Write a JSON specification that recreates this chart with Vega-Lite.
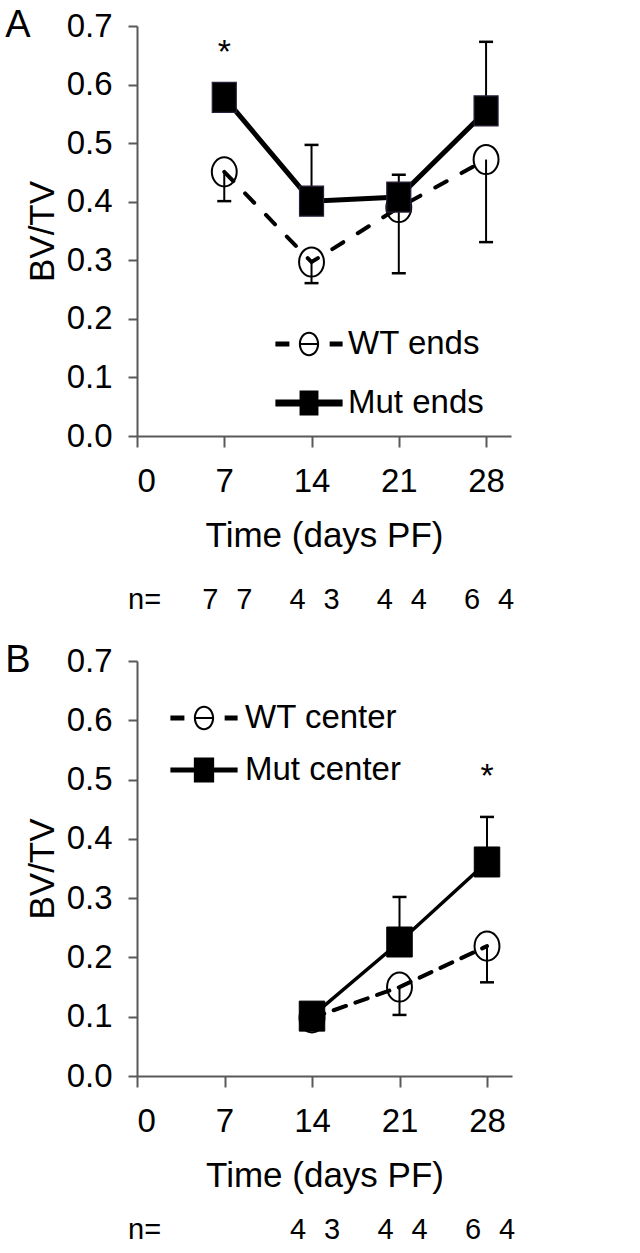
{
  "$schema": "https://vega.github.io/schema/vega-lite/v6.json",
  "background": "white",
  "padding": {"left": 5, "top": 7, "right": 5, "bottom": 5},
  "bounds": "flush",
  "spacing": 225,
  "config": {
    "font": "Liberation Sans",
    "view": {"stroke": null},
    "axis": {
      "domainColor": "#595959", "domainWidth": 2, "tickColor": "#595959", "tickWidth": 2,
      "grid": false, "labelFont": "Liberation Sans", "labelFontSize": 33, "labelColor": "black",
      "titleFont": "Liberation Sans", "titleFontSize": 35, "titleFontWeight": "normal", "titleColor": "black"
    },
    "legend": {"labelFont": "Liberation Sans", "labelFontSize": 33, "labelColor": "black", "padding": 0, "title": null, "symbolStrokeWidth": 0},
    "title": {"font": "Liberation Sans", "fontSize": 38, "fontWeight": "normal", "color": "black"}
  },
  "datasets": {
    "pts": [
      {"panel": "A", "group": "WT ends", "time": 7, "value": 0.451, "lo": 0.401, "hi": null},
      {"panel": "A", "group": "WT ends", "time": 14, "value": 0.297, "lo": 0.261, "hi": null},
      {"panel": "A", "group": "WT ends", "time": 21, "value": 0.39, "lo": 0.278, "hi": null},
      {"panel": "A", "group": "WT ends", "time": 28, "value": 0.472, "lo": 0.331, "hi": null},
      {"panel": "A", "group": "Mut ends", "time": 7, "value": 0.578, "lo": null, "hi": null},
      {"panel": "A", "group": "Mut ends", "time": 14, "value": 0.401, "lo": null, "hi": 0.497},
      {"panel": "A", "group": "Mut ends", "time": 21, "value": 0.408, "lo": null, "hi": 0.446},
      {"panel": "A", "group": "Mut ends", "time": 28, "value": 0.555, "lo": null, "hi": 0.673},
      {"panel": "B", "group": "WT center", "time": 14, "value": 0.098, "lo": null, "hi": null},
      {"panel": "B", "group": "WT center", "time": 21, "value": 0.15, "lo": 0.103, "hi": null},
      {"panel": "B", "group": "WT center", "time": 28, "value": 0.219, "lo": 0.158, "hi": null},
      {"panel": "B", "group": "Mut center", "time": 14, "value": 0.101, "lo": null, "hi": null},
      {"panel": "B", "group": "Mut center", "time": 21, "value": 0.226, "lo": null, "hi": 0.302},
      {"panel": "B", "group": "Mut center", "time": 28, "value": 0.361, "lo": null, "hi": 0.437}
    ],
    "nvals": [
      {"panel": "A", "grp": "WT", "time": 7, "n": "7"},
      {"panel": "A", "grp": "Mut", "time": 7, "n": "7"},
      {"panel": "A", "grp": "WT", "time": 14, "n": "4"},
      {"panel": "A", "grp": "Mut", "time": 14, "n": "3"},
      {"panel": "A", "grp": "WT", "time": 21, "n": "4"},
      {"panel": "A", "grp": "Mut", "time": 21, "n": "4"},
      {"panel": "A", "grp": "WT", "time": 28, "n": "6"},
      {"panel": "A", "grp": "Mut", "time": 28, "n": "4"},
      {"panel": "B", "grp": "WT", "time": 14, "n": "4"},
      {"panel": "B", "grp": "Mut", "time": 14, "n": "3"},
      {"panel": "B", "grp": "WT", "time": 21, "n": "4"},
      {"panel": "B", "grp": "Mut", "time": 21, "n": "4"},
      {"panel": "B", "grp": "WT", "time": 28, "n": "6"},
      {"panel": "B", "grp": "Mut", "time": 28, "n": "4"}
    ],
    "stars": [
      {"panel": "A", "time": 7, "value": 0.665, "label": "*"},
      {"panel": "B", "time": 28, "value": 0.515, "label": "*"}
    ]
  },
  "resolve": {
    "scale": {"x": "independent", "y": "independent", "shape": "independent"},
    "legend": {"shape": "independent"}
  },
  "vconcat": [
    {
      "width": 374,
      "height": 410,
      "title": {"text": "A", "anchor": "start", "frame": "bounds", "offset": -35, "dx": -20},
      "layer": [
        {
          "data": {"name": "pts"},
          "transform": [{"filter": "datum.panel === 'A' && indexof(datum.group, 'WT') === 0"}],
          "mark": {"type": "line", "color": "black", "strokeWidth": 4, "strokeDash": [13, 17], "strokeCap": "round"},
          "encoding": {
            "x": {"field": "time", "type": "quantitative", "scale": {"domain": [0, 30], "nice": false},
                  "axis": {"values": [0, 7, 14, 21, 28], "tickSize": 11, "labelPadding": 18, "title": "Time (days PF)", "titlePadding": 20}},
            "y": {"field": "value", "type": "quantitative", "scale": {"domain": [0, 0.7], "nice": false},
                  "axis": {"values": [0, 0.1, 0.2, 0.3, 0.4, 0.5, 0.6, 0.7], "format": ".1f", "tickSize": 9, "labelPadding": 16, "title": "BV/TV", "titlePadding": 6}}
          }
        },
        {
          "data": {"name": "pts"},
          "transform": [{"filter": "datum.panel === 'A' && datum.lo != null"}],
          "mark": {"type": "rule", "color": "black", "strokeWidth": 2},
          "encoding": {
            "x": {"field": "time", "type": "quantitative"},
            "y": {"field": "value", "type": "quantitative"},
            "y2": {"field": "lo"}
          }
        },
        {
          "data": {"name": "pts"},
          "transform": [{"filter": "datum.panel === 'A' && datum.lo != null"}],
          "mark": {"type": "tick", "orient": "horizontal", "color": "black", "size": 14, "thickness": 2.5, "opacity": 1},
          "encoding": {
            "x": {"field": "time", "type": "quantitative"},
            "y": {"field": "lo", "type": "quantitative"}
          }
        },
        {
          "data": {"name": "pts"},
          "transform": [{"filter": "datum.panel === 'A' && indexof(datum.group, 'Mut') === 0"}],
          "mark": {"type": "line", "color": "black", "strokeWidth": 5},
          "encoding": {
            "x": {"field": "time", "type": "quantitative"},
            "y": {"field": "value", "type": "quantitative"}
          }
        },
        {
          "data": {"name": "pts"},
          "transform": [{"filter": "datum.panel === 'A' && datum.hi != null"}],
          "mark": {"type": "rule", "color": "black", "strokeWidth": 2},
          "encoding": {
            "x": {"field": "time", "type": "quantitative"},
            "y": {"field": "value", "type": "quantitative"},
            "y2": {"field": "hi"}
          }
        },
        {
          "data": {"name": "pts"},
          "transform": [{"filter": "datum.panel === 'A' && datum.hi != null"}],
          "mark": {"type": "tick", "orient": "horizontal", "color": "black", "size": 14, "thickness": 2.5, "opacity": 1},
          "encoding": {
            "x": {"field": "time", "type": "quantitative"},
            "y": {"field": "hi", "type": "quantitative"}
          }
        },
        {
          "data": {"name": "pts"},
          "transform": [{"filter": "datum.panel === 'A' && indexof(datum.group, 'WT') === 0"}],
          "mark": {"type": "point", "shape": "M-0.83,0A0.83,0.97 0 1,0 0.83,0A0.83,0.97 0 1,0 -0.83,0Z", "size": 900, "strokeWidth": 2, "opacity": 1, "filled": false, "color": "black"},
          "encoding": {
            "x": {"field": "time", "type": "quantitative"},
            "y": {"field": "value", "type": "quantitative"}
          }
        },
        {
          "data": {"name": "pts"},
          "transform": [{"filter": "datum.panel === 'A' && indexof(datum.group, 'Mut') === 0"}],
          "mark": {"type": "point", "shape": "M-0.8,-1H0.8V1H-0.8Z", "size": 900, "strokeWidth": 1.2, "opacity": 1, "filled": true, "fill": "black", "stroke": "#2a1f3d"},
          "encoding": {
            "x": {"field": "time", "type": "quantitative"},
            "y": {"field": "value", "type": "quantitative"}
          }
        },
        {
          "data": {"name": "pts"},
          "transform": [{"filter": "false"}],
          "mark": {"type": "point", "filled": true, "color": "black", "size": 4900, "strokeWidth": 0, "opacity": 1},
          "encoding": {
            "x": {"field": "time", "type": "quantitative"},
            "y": {"field": "value", "type": "quantitative"},
            "shape": {"field": "group", "type": "nominal",
              "scale": {"domain": ["WT ends", "Mut ends"], "range": [
                "M-0.96,-0.07H-0.56V0.07H-0.96Z M0.59,-0.07H0.96V0.07H0.59Z M-0.29,0A0.29,0.35 0 1,1 0.29,0A0.29,0.35 0 1,1 -0.29,0Z M-0.23,0A0.23,0.29 0 1,0 0.23,0A0.23,0.29 0 1,0 -0.23,0Z M-0.26,-0.03H0.26V0.03H-0.26Z",
                "M-0.96,-0.1H0.96V0.1H-0.96Z M-0.27,-0.36H0.27V0.36H-0.27Z"]},
              "legend": {"orient": "none", "legendX": 137, "legendY": 283, "symbolSize": 4900, "labelOffset": 4, "rowPadding": 7}
            }
          }
        },
        {
          "data": {"name": "stars"},
          "transform": [{"filter": "datum.panel === 'A'"}],
          "mark": {"type": "text", "fontSize": 34, "baseline": "middle", "dy": 6, "color": "black"},
          "encoding": {
            "x": {"field": "time", "type": "quantitative"},
            "y": {"field": "value", "type": "quantitative"},
            "text": {"field": "label"}
          }
        },
        {
          "data": {"name": "nvals"},
          "transform": [{"filter": "datum.panel === 'A' && datum.grp === 'WT'"}],
          "mark": {"type": "text", "fontSize": 29, "baseline": "alphabetic", "dx": -14, "color": "black"},
          "encoding": {
            "x": {"field": "time", "type": "quantitative"},
            "y": {"datum": -0.296},
            "text": {"field": "n"}
          }
        },
        {
          "data": {"name": "nvals"},
          "transform": [{"filter": "datum.panel === 'A' && datum.grp === 'Mut'"}],
          "mark": {"type": "text", "fontSize": 29, "baseline": "alphabetic", "dx": 20, "color": "black"},
          "encoding": {
            "x": {"field": "time", "type": "quantitative"},
            "y": {"datum": -0.296},
            "text": {"field": "n"}
          }
        },
        {
          "data": {"values": [{"label": "n="}]},
          "mark": {"type": "text", "fontSize": 29, "baseline": "alphabetic", "align": "left", "dx": -9, "color": "black"},
          "encoding": {
            "x": {"datum": 0},
            "y": {"datum": -0.296},
            "text": {"field": "label"}
          }
        }
      ]
    },
    {
      "width": 375,
      "height": 415,
      "title": {"text": "B", "anchor": "start", "frame": "bounds", "offset": -35, "dx": -20},
      "layer": [
        {
          "data": {"name": "pts"},
          "transform": [{"filter": "datum.panel === 'B' && indexof(datum.group, 'WT') === 0"}],
          "mark": {"type": "line", "color": "black", "strokeWidth": 4, "strokeDash": [13, 10], "strokeCap": "round"},
          "encoding": {
            "x": {"field": "time", "type": "quantitative", "scale": {"domain": [0, 30], "nice": false},
                  "axis": {"values": [0, 7, 14, 21, 28], "tickSize": 11, "labelPadding": 18, "title": "Time (days PF)", "titlePadding": 20}},
            "y": {"field": "value", "type": "quantitative", "scale": {"domain": [0, 0.7], "nice": false},
                  "axis": {"values": [0, 0.1, 0.2, 0.3, 0.4, 0.5, 0.6, 0.7], "format": ".1f", "tickSize": 9, "labelPadding": 16, "title": "BV/TV", "titlePadding": 6}}
          }
        },
        {
          "data": {"name": "pts"},
          "transform": [{"filter": "datum.panel === 'B' && datum.lo != null"}],
          "mark": {"type": "rule", "color": "black", "strokeWidth": 2},
          "encoding": {
            "x": {"field": "time", "type": "quantitative"},
            "y": {"field": "value", "type": "quantitative"},
            "y2": {"field": "lo"}
          }
        },
        {
          "data": {"name": "pts"},
          "transform": [{"filter": "datum.panel === 'B' && datum.lo != null"}],
          "mark": {"type": "tick", "orient": "horizontal", "color": "black", "size": 14, "thickness": 2.5, "opacity": 1},
          "encoding": {
            "x": {"field": "time", "type": "quantitative"},
            "y": {"field": "lo", "type": "quantitative"}
          }
        },
        {
          "data": {"name": "pts"},
          "transform": [{"filter": "datum.panel === 'B' && indexof(datum.group, 'Mut') === 0"}],
          "mark": {"type": "line", "color": "black", "strokeWidth": 3.5},
          "encoding": {
            "x": {"field": "time", "type": "quantitative"},
            "y": {"field": "value", "type": "quantitative"}
          }
        },
        {
          "data": {"name": "pts"},
          "transform": [{"filter": "datum.panel === 'B' && datum.hi != null"}],
          "mark": {"type": "rule", "color": "black", "strokeWidth": 2},
          "encoding": {
            "x": {"field": "time", "type": "quantitative"},
            "y": {"field": "value", "type": "quantitative"},
            "y2": {"field": "hi"}
          }
        },
        {
          "data": {"name": "pts"},
          "transform": [{"filter": "datum.panel === 'B' && datum.hi != null"}],
          "mark": {"type": "tick", "orient": "horizontal", "color": "black", "size": 14, "thickness": 2.5, "opacity": 1},
          "encoding": {
            "x": {"field": "time", "type": "quantitative"},
            "y": {"field": "hi", "type": "quantitative"}
          }
        },
        {
          "data": {"name": "pts"},
          "transform": [{"filter": "datum.panel === 'B' && indexof(datum.group, 'WT') === 0"}],
          "mark": {"type": "point", "shape": "M-0.83,0A0.83,0.97 0 1,0 0.83,0A0.83,0.97 0 1,0 -0.83,0Z", "size": 900, "strokeWidth": 2, "opacity": 1, "filled": false, "color": "black"},
          "encoding": {
            "x": {"field": "time", "type": "quantitative"},
            "y": {"field": "value", "type": "quantitative"}
          }
        },
        {
          "data": {"name": "pts"},
          "transform": [{"filter": "datum.panel === 'B' && indexof(datum.group, 'Mut') === 0"}],
          "mark": {"type": "point", "shape": "M-0.85,-1H0.85V1H-0.85Z", "size": 900, "strokeWidth": 1, "opacity": 1, "filled": true, "fill": "black", "stroke": "black"},
          "encoding": {
            "x": {"field": "time", "type": "quantitative"},
            "y": {"field": "value", "type": "quantitative"}
          }
        },
        {
          "data": {"name": "pts"},
          "transform": [{"filter": "false"}],
          "mark": {"type": "point", "filled": true, "color": "black", "size": 4900, "strokeWidth": 0, "opacity": 1},
          "encoding": {
            "x": {"field": "time", "type": "quantitative"},
            "y": {"field": "value", "type": "quantitative"},
            "shape": {"field": "group", "type": "nominal",
              "scale": {"domain": ["WT center", "Mut center"], "range": [
                "M-0.96,-0.07H-0.56V0.07H-0.96Z M0.59,-0.07H0.96V0.07H0.59Z M-0.29,0A0.29,0.35 0 1,1 0.29,0A0.29,0.35 0 1,1 -0.29,0Z M-0.23,0A0.23,0.29 0 1,0 0.23,0A0.23,0.29 0 1,0 -0.23,0Z M-0.26,-0.03H0.26V0.03H-0.26Z",
                "M-0.96,-0.07H0.96V0.07H-0.96Z M-0.29,-0.36H0.29V0.36H-0.29Z"]},
              "legend": {"orient": "none", "legendX": 32, "legendY": 22, "symbolSize": 4900, "labelOffset": 6, "rowPadding": -2}
            }
          }
        },
        {
          "data": {"name": "stars"},
          "transform": [{"filter": "datum.panel === 'B'"}],
          "mark": {"type": "text", "fontSize": 34, "baseline": "middle", "dy": 6, "color": "black"},
          "encoding": {
            "x": {"field": "time", "type": "quantitative"},
            "y": {"field": "value", "type": "quantitative"},
            "text": {"field": "label"}
          }
        },
        {
          "data": {"name": "nvals"},
          "transform": [{"filter": "datum.panel === 'B' && datum.grp === 'WT'"}],
          "mark": {"type": "text", "fontSize": 29, "baseline": "alphabetic", "dx": -14, "color": "black"},
          "encoding": {
            "x": {"field": "time", "type": "quantitative"},
            "y": {"datum": -0.275},
            "text": {"field": "n"}
          }
        },
        {
          "data": {"name": "nvals"},
          "transform": [{"filter": "datum.panel === 'B' && datum.grp === 'Mut'"}],
          "mark": {"type": "text", "fontSize": 29, "baseline": "alphabetic", "dx": 20, "color": "black"},
          "encoding": {
            "x": {"field": "time", "type": "quantitative"},
            "y": {"datum": -0.275},
            "text": {"field": "n"}
          }
        },
        {
          "data": {"values": [{"label": "n="}]},
          "mark": {"type": "text", "fontSize": 29, "baseline": "alphabetic", "align": "left", "dx": -9, "color": "black"},
          "encoding": {
            "x": {"datum": 0},
            "y": {"datum": -0.275},
            "text": {"field": "label"}
          }
        }
      ]
    }
  ]
}
